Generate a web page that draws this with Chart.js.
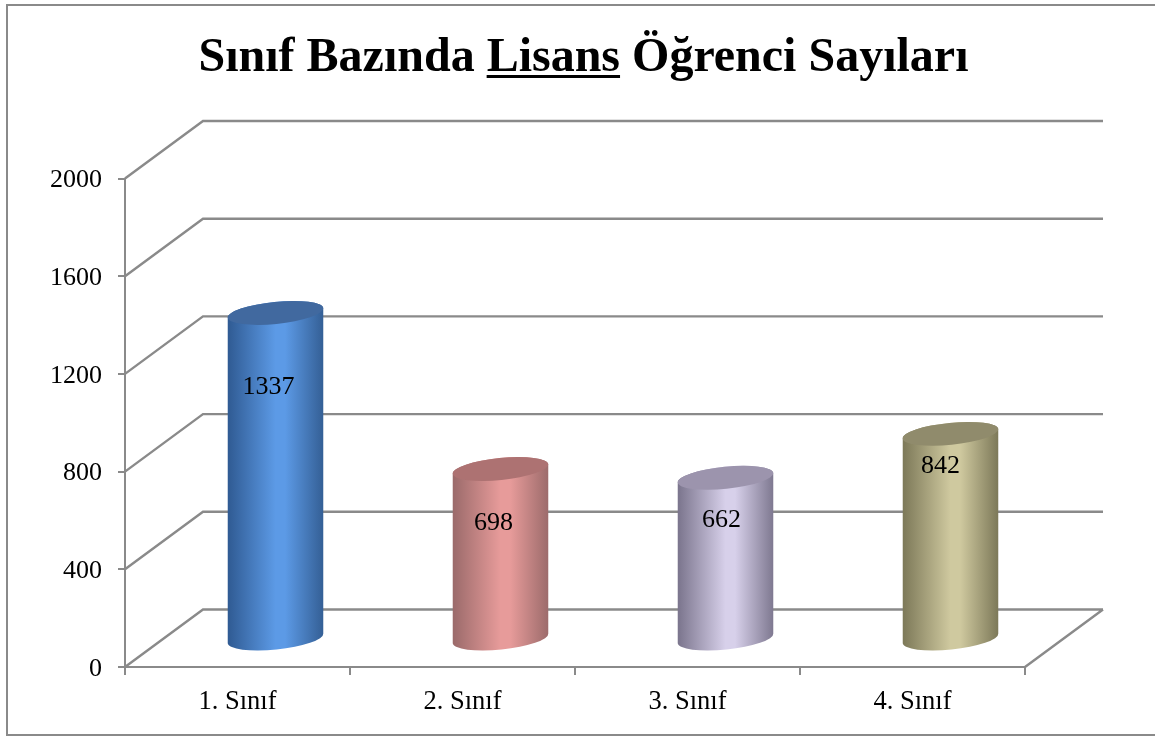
<!DOCTYPE html>
<html>
<head>
<meta charset="utf-8">
<title>Sınıf Bazında Lisans Öğrenci Sayıları</title>
<script src="https://cdn.jsdelivr.net/npm/chart.js@4"></script>
<style>
html, body { margin: 0; padding: 0; background: #fff; }
canvas { display: block; }
</style>
</head>
<body>
<canvas id="myChart" width="1155" height="736"></canvas>
<script>
const categories = ['1. Sınıf', '2. Sınıf', '3. Sınıf', '4. Sınıf'];
const ogrenciSayilari = [1337, 698, 662, 842];
const titleText = 'Sınıf Bazında Lisans Öğrenci Sayıları';
const underlined = 'Lisans';

// side dark / middle light / side dark / top cap
const cylinderColors = [
    ['#2f5a92', '#5c9ae6', '#345f95', '#41699f'],
    ['#9a6a6a', '#e79b9a', '#9c6b6b', '#ad7272'],
    ['#7a748c', '#d7d0ea', '#7e7890', '#9c94ad'],
    ['#7c7858', '#cfc99f', '#7c7858', '#908b6c']
];
// Excel left the value labels at odd spots on each cylinder
const labelNudge = [[-7, 74], [-7, 54], [-4, 42], [-10, 32]];

const lineColor = '#8a8a8a';
const depthX = 78, depthY = 57.5;

const wallsPlugin = {
    id: 'walls',
    beforeDatasetsDraw(chart) {
        const ctx = chart.ctx, y = chart.scales.y, area = chart.chartArea;
        ctx.save();
        ctx.strokeStyle = lineColor;
        ctx.lineWidth = 2.4;
        ctx.beginPath();
        y.ticks.forEach(t => {
            const py = y.getPixelForValue(t.value);
            ctx.moveTo(area.left, py);
            ctx.lineTo(area.left + depthX, py - depthY);
            ctx.lineTo(area.right + depthX, py - depthY);
        });
        // right edge of the floor
        ctx.moveTo(area.right, area.bottom);
        ctx.lineTo(area.right + depthX, area.bottom - depthY);
        ctx.stroke();
        ctx.restore();
    }
};

const cylinderPlugin = {
    id: 'cylinders',
    beforeDatasetDraw(chart, args) {
        const ctx = chart.ctx;
        const rot = -0.1, ry = 11;
        args.meta.data.forEach((bar, i) => {
            const rx = bar.width / 2;
            const cx = bar.x + 38;
            const top = bar.y - 27.5;
            const bottom = bar.base - 27.5;
            const c = cylinderColors[i];

            const grad = ctx.createLinearGradient(cx - rx, 0, cx + rx, 0);
            grad.addColorStop(0, c[0]);
            grad.addColorStop(0.5, c[1]);
            grad.addColorStop(0.6, c[1]);
            grad.addColorStop(1, c[2]);

            ctx.save();
            ctx.fillStyle = grad;
            ctx.beginPath();
            ctx.ellipse(cx, top, rx, ry, rot, Math.PI, 0);
            ctx.ellipse(cx, bottom, rx, ry, rot, 0, Math.PI);
            ctx.closePath();
            ctx.fill();

            ctx.fillStyle = c[3];
            ctx.beginPath();
            ctx.ellipse(cx, top, rx, ry, rot, 0, Math.PI * 2);
            ctx.fill();

            ctx.fillStyle = '#000';
            ctx.font = '26px "Liberation Serif"';
            ctx.textAlign = 'center';
            ctx.textBaseline = 'middle';
            ctx.fillText(String(ogrenciSayilari[i]), cx + labelNudge[i][0], top + labelNudge[i][1]);
            ctx.restore();
        });
        return false;
    }
};

const framePlugin = {
    id: 'frame',
    beforeDraw(chart) {
        const ctx = chart.ctx, y = chart.scales.y;
        ctx.save();
        ctx.fillStyle = '#fff';
        ctx.fillRect(0, 0, chart.width, chart.height);
        ctx.strokeStyle = lineColor;
        ctx.lineWidth = 2;
        ctx.strokeRect(7, 5, chart.width, 730);
        ctx.restore();
        // y labels sit a bit low next to their ticks in the original
        y.getLabelItems().forEach((item, i) => {
            item.options.translation[1] = y.getPixelForTick(i) + 2;
        });
    },
    afterDraw(chart) {
        // Chart.js has no partial underline in a title
        const ctx = chart.ctx, tb = chart.titleBlock;
        const font = chart.options.plugins.title.font;
        ctx.save();
        ctx.font = font.weight + ' ' + font.size + 'px ' + Chart.defaults.font.family;
        const full = ctx.measureText(titleText).width;
        const start = (tb.left + tb.right) / 2 - full / 2 + ctx.measureText(titleText.slice(0, titleText.indexOf(underlined))).width;
        ctx.fillStyle = '#000';
        ctx.fillRect(start, 75, ctx.measureText(underlined).width, 3);
        ctx.restore();
    }
};

Chart.defaults.font.family = '"Liberation Serif"';
Chart.defaults.color = '#000';

new Chart(document.getElementById('myChart').getContext('2d'), {
    type: 'bar',
    data: {
        labels: categories,
        datasets: [{ label: 'Öğrenci Sayısı', data: ogrenciSayilari, backgroundColor: '#5c9ae6', categoryPercentage: 1, barPercentage: 0.4267 }]
    },
    options: {
        responsive: false,
        animation: false,
        layout: { padding: { left: 12 } },
        plugins: {
            legend: { display: false },
            tooltip: { enabled: false },
            title: {
                display: true,
                text: titleText,
                color: '#000',
                font: { size: 48, weight: 'bold', lineHeight: 1.2 },
                padding: { top: 30.2, bottom: 90.7 }
            }
        },
        scales: {
            x: {
                afterFit: s => { s.height = 69; },
                grid: { drawOnChartArea: false, color: lineColor, lineWidth: 2, tickLength: 8 },
                border: { color: lineColor, width: 2 },
                ticks: { font: { size: 26.5 }, padding: 11, maxRotation: 0 }
            },
            y: {
                min: 0,
                max: 2000,
                afterFit: s => { s.width = 113; },
                grid: { drawOnChartArea: false, color: lineColor, lineWidth: 2, tickLength: 7 },
                border: { color: lineColor, width: 2 },
                ticks: { stepSize: 400, font: { size: 26 }, padding: 16, callback: v => String(v) }
            },
            // empty axis, keeps room for the 3d depth on the right
            spacer: {
                position: 'right',
                afterFit: s => { s.width = 130; },
                grid: { display: false },
                border: { display: false },
                ticks: { display: false }
            }
        }
    },
    plugins: [framePlugin, wallsPlugin, cylinderPlugin]
});
</script>
</body>
</html>
